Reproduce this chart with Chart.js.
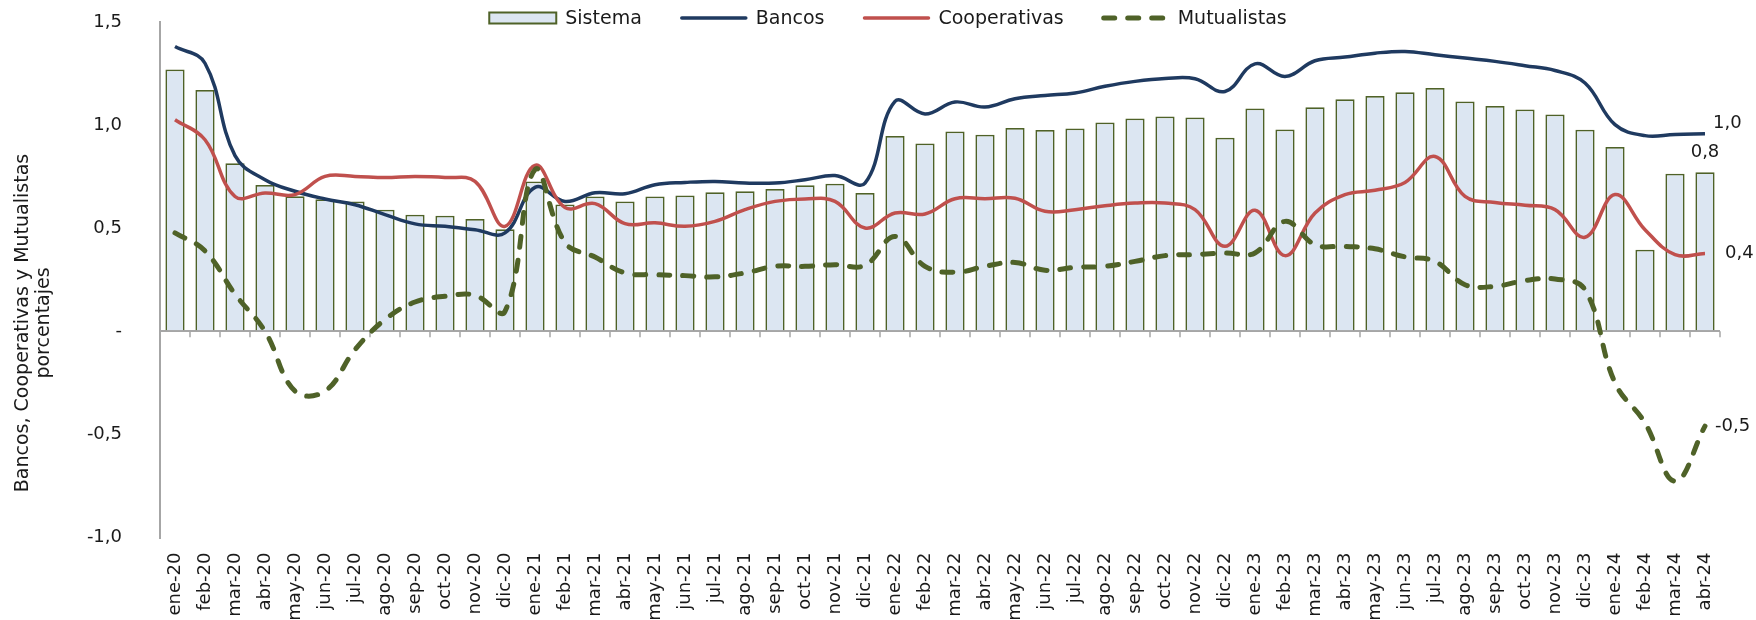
<!DOCTYPE html>
<html lang="es">
<head>
<meta charset="utf-8">
<title>Bancos, Cooperativas y Mutualistas</title>
<script src="https://cdn.jsdelivr.net/npm/chart.js@4.4.1/dist/chart.umd.min.js"></script>
<style>
    html, body { margin: 0; padding: 0; background: #ffffff; }
    #wrap { position: relative; width: 1756px; height: 620px; }
</style>
</head>
<body>
<div id="wrap"><canvas id="mainChart" width="1756" height="620"></canvas></div>
<script>
// ===================== DATA =====================

const meses = [
    'ene-20', 'feb-20', 'mar-20', 'abr-20', 'may-20', 'jun-20', 'jul-20', 'ago-20', 'sep-20', 'oct-20', 'nov-20', 'dic-20',
    'ene-21', 'feb-21', 'mar-21', 'abr-21', 'may-21', 'jun-21', 'jul-21', 'ago-21', 'sep-21', 'oct-21', 'nov-21', 'dic-21',
    'ene-22', 'feb-22', 'mar-22', 'abr-22', 'may-22', 'jun-22', 'jul-22', 'ago-22', 'sep-22', 'oct-22', 'nov-22', 'dic-22',
    'ene-23', 'feb-23', 'mar-23', 'abr-23', 'may-23', 'jun-23', 'jul-23', 'ago-23', 'sep-23', 'oct-23', 'nov-23', 'dic-23',
    'ene-24', 'feb-24', 'mar-24', 'abr-24'
];

const sistema = [
    1.27, 1.17, 0.815, 0.71, 0.655, 0.64, 0.63, 0.59, 0.565, 0.56, 0.545, 0.495,
    0.726, 0.615, 0.654, 0.629, 0.654, 0.659, 0.674, 0.679, 0.69, 0.708, 0.716, 0.671,
    0.947, 0.911, 0.969, 0.953, 0.986, 0.976, 0.984, 1.013, 1.032, 1.042, 1.037, 0.939,
    1.081, 0.979, 1.086, 1.125, 1.141, 1.159, 1.18, 1.115, 1.093, 1.076, 1.052, 0.978,
    0.894, 0.396, 0.764, 0.771
];

const bancos = [
    1.381, 1.30, 0.852, 0.735, 0.679, 0.642, 0.614, 0.566, 0.521, 0.509, 0.493, 0.477,
    0.698, 0.63, 0.672, 0.667, 0.711, 0.722, 0.727, 0.719, 0.719, 0.735, 0.755, 0.719,
    1.115, 1.054, 1.112, 1.088, 1.128, 1.144, 1.156, 1.188, 1.212, 1.226, 1.225, 1.163,
    1.297, 1.236, 1.312, 1.33, 1.349, 1.357, 1.341, 1.325, 1.309, 1.288, 1.265, 1.204,
    1.002, 0.949, 0.955, 0.958
];

const cooperativas = [
    1.026, 0.929, 0.654, 0.671, 0.663, 0.751, 0.751, 0.746, 0.751, 0.746, 0.727, 0.509,
    0.805, 0.60, 0.619, 0.522, 0.526, 0.509, 0.533, 0.59, 0.63, 0.642, 0.63, 0.501,
    0.574, 0.569, 0.643, 0.643, 0.645, 0.582, 0.59, 0.609, 0.622, 0.622, 0.59, 0.412,
    0.587, 0.367, 0.574, 0.663, 0.684, 0.722, 0.848, 0.654, 0.625, 0.611, 0.59, 0.456,
    0.663, 0.493, 0.372, 0.377
];

const mutualistas = [
    0.477, 0.39, 0.18, 0.0, -0.29, -0.29, -0.089, 0.057, 0.142, 0.17, 0.175, 0.097,
    0.784, 0.43, 0.36, 0.283, 0.275, 0.27, 0.264, 0.283, 0.315, 0.315, 0.323, 0.32,
    0.46, 0.315, 0.286, 0.315, 0.334, 0.296, 0.31, 0.315, 0.339, 0.367, 0.372, 0.38,
    0.38, 0.533, 0.42, 0.412, 0.40, 0.361, 0.339, 0.226, 0.218, 0.246, 0.254, 0.202,
    -0.25, -0.444, -0.727, -0.46
];

const yTicks = [-1.0, -0.5, 0, 0.5, 1.0, 1.5];
const yTitleLines = ['Bancos, Cooperativas y Mutualistas', 'porcentajes'];

// ===================== STYLE =====================

const FONT = '"DejaVu Sans", sans-serif';
const AXIS_GRAY = '#a6a6a6';
const C_BAR_FILL = '#dce6f2';
const C_BAR_EDGE = '#4f6228';
const C_BANCOS = '#1f3a60';
const C_COOP = '#c0504d';
const C_MUTUAL = '#4f6228';

function fmt(v) {
    if (Math.abs(v) < 1e-9) return '-';
    return v.toFixed(1).replace('.', ',');
}

// ===================== DECORATIONS PLUGIN =====================
// legend, y-axis title, small ticks on the zero line, end-of-series labels

const decorPlugin = {
    id: 'decor',
    beforeDatasetsDraw(chart) {
        const { ctx, scales: { x, y } } = chart;
        const y0 = y.getPixelForValue(0);
        const step = x.getPixelForValue(1) - x.getPixelForValue(0);
        ctx.save();
        ctx.strokeStyle = AXIS_GRAY;
        ctx.lineWidth = 1.5;
        for (let i = 1; i <= meses.length; i++) {
            const xx = Math.round(x.getPixelForValue(i - 1) + step / 2);
            ctx.beginPath();
            ctx.moveTo(xx, y0);
            ctx.lineTo(xx, y0 + 6);
            ctx.stroke();
        }
        ctx.restore();
    },
    afterDatasetsDraw(chart) {
        const { ctx, scales: { x, y } } = chart;
        const last = meses.length - 1;
        const lx = x.getPixelForValue(last);
        ctx.save();
        ctx.font = '18px ' + FONT;
        ctx.fillStyle = '#1a1a1a';
        ctx.textBaseline = 'middle';

        // Sistema: above the last bar
        ctx.textAlign = 'center';
        ctx.fillText(fmt(sistema[last]), lx, y.getPixelForValue(sistema[last]) - 20);

        ctx.textAlign = 'left';
        ctx.fillText(fmt(bancos[last]), lx + 8, y.getPixelForValue(bancos[last]) - 10);
        ctx.fillText(fmt(cooperativas[last]), lx + 20, y.getPixelForValue(cooperativas[last]));
        ctx.fillText(fmt(mutualistas[last]), lx + 10, y.getPixelForValue(mutualistas[last]));
        ctx.restore();
    },
    afterDraw(chart) {
        const { ctx } = chart;
        ctx.save();

        // y-axis title (two rotated lines)
        ctx.font = '19px ' + FONT;
        ctx.fillStyle = '#1a1a1a';
        ctx.textAlign = 'center';
        ctx.textBaseline = 'middle';
        [23, 44].forEach((cx, k) => {
            ctx.save();
            ctx.translate(cx, 323);
            ctx.rotate(-Math.PI / 2);
            ctx.fillText(yTitleLines[k], 0, 0);
            ctx.restore();
        });

        // legend
        const symW = 68, gap = 8, itemGap = 38, cy = 18;
        const items = chart.data.datasets.map(ds => ({ ds, w: ctx.measureText(ds.label).width }));
        const total = items.reduce((s, it) => s + symW + gap + it.w, 0) + itemGap * (items.length - 1);
        let cx = 888 - total / 2;
        items.forEach(({ ds, w }) => {
            if (ds.type === 'bar') {
                ctx.fillStyle = ds.backgroundColor;
                ctx.fillRect(cx, cy - 5.5, symW - 1, 11);
                ctx.strokeStyle = ds.borderColor;
                ctx.lineWidth = 2;
                ctx.strokeRect(cx, cy - 5.5, symW - 1, 11);
            } else {
                ctx.strokeStyle = ds.borderColor;
                ctx.lineWidth = ds.borderWidth;
                ctx.lineCap = 'round';
                ctx.setLineDash(ds.borderDash || []);
                ctx.beginPath();
                ctx.moveTo(cx + 2, cy);
                ctx.lineTo(cx + symW - 2, cy);
                ctx.stroke();
                ctx.setLineDash([]);
            }
            ctx.fillStyle = '#1a1a1a';
            ctx.textAlign = 'left';
            ctx.fillText(ds.label, cx + symW + gap, cy + 1);
            cx += symW + gap + w + itemGap;
        });
        ctx.restore();
    }
};

// ===================== CHART =====================

const chartCtx = document.getElementById('mainChart');

new Chart(chartCtx, {
    data: {
        labels: meses,
        datasets: [
            {
                type: 'bar',
                label: 'Sistema',
                data: sistema,
                backgroundColor: C_BAR_FILL,
                borderColor: C_BAR_EDGE,
                borderWidth: 1.75,
                barPercentage: 0.64,
                categoryPercentage: 1.0,
                order: 4
            },
            {
                type: 'line',
                label: 'Bancos',
                data: bancos,
                borderColor: C_BANCOS,
                borderWidth: 3.5,
                tension: 0.4,
                pointRadius: 0,
                fill: false,
                order: 3
            },
            {
                type: 'line',
                label: 'Cooperativas',
                data: cooperativas,
                borderColor: C_COOP,
                borderWidth: 3.5,
                tension: 0.4,
                pointRadius: 0,
                fill: false,
                order: 2
            },
            {
                type: 'line',
                label: 'Mutualistas',
                data: mutualistas,
                borderColor: C_MUTUAL,
                borderWidth: 5,
                borderDash: [11, 13],
                borderCapStyle: 'round',
                tension: 0.4,
                pointRadius: 0,
                fill: false,
                order: 1
            }
        ]
    },
    options: {
        responsive: false,
        animation: false,
        layout: {
            padding: { top: 22, right: 36, bottom: 0, left: 0 }
        },
        plugins: {
            legend: { display: false },
            tooltip: { enabled: false }
        },
        scales: {
            x: {
                grid: { display: false, drawTicks: false },
                border: { display: false },
                ticks: {
                    autoSkip: false,
                    minRotation: 90,
                    maxRotation: 90,
                    padding: 15,
                    color: '#1a1a1a',
                    font: { family: FONT, size: 18 }
                },
                afterFit: function(scale) {
                    scale.height = 82.5;
                    scale.paddingLeft = 0;
                    scale.paddingRight = 0;
                    scale.paddingTop = 0;
                    scale.paddingBottom = 0;
                }
            },
            y: {
                min: -1.0,
                max: 1.5,
                afterBuildTicks: function(scale) {
                    scale.ticks = yTicks.map(v => ({ value: v }));
                },
                grid: {
                    drawTicks: false,
                    lineWidth: 2,
                    color: function(context) {
                        return context.tick && context.tick.value === 0 ? AXIS_GRAY : 'rgba(0,0,0,0)';
                    }
                },
                border: { display: true, color: AXIS_GRAY, width: 2 },
                ticks: {
                    padding: 38,
                    color: '#1a1a1a',
                    font: { family: FONT, size: 18 },
                    callback: function(value) {
                        return fmt(value);
                    }
                },
                afterFit: function(scale) {
                    scale.width = 160;
                    scale.paddingTop = 0;
                    scale.paddingBottom = 0;
                    scale.paddingLeft = 0;
                    scale.paddingRight = 0;
                }
            }
        }
    },
    plugins: [decorPlugin]
});
</script>
</body>
</html>
